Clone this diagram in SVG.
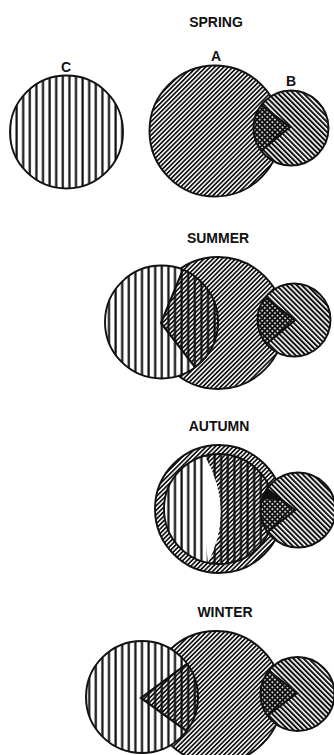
<svg xmlns="http://www.w3.org/2000/svg" width="334" height="755" viewBox="0 0 334 755">
<defs>
<style>
.lbl{font-family:"Liberation Sans",Arial,sans-serif;font-size:14px;font-weight:bold;fill:#111;text-anchor:middle}
.ol{fill:none;stroke:#111;stroke-width:1.9}
.bg{fill:#fff}
.va{fill:url(#vert)}
.da{fill:url(#diagA)}
.db{fill:url(#diagB)}
.dt{fill:url(#dots)}
.edge{stroke:#111;stroke-width:2.2;fill:none}
</style>
<pattern id="vert" patternUnits="userSpaceOnUse" width="6.6" height="10"><rect x="2.3" y="0" width="2.2" height="10" fill="#111"/></pattern>
<pattern id="diagA" patternUnits="userSpaceOnUse" width="3.2" height="10" patternTransform="rotate(45)"><rect width="1.7" height="10" fill="#111"/></pattern>
<pattern id="diagB" patternUnits="userSpaceOnUse" width="3.6" height="10" patternTransform="rotate(-45)"><rect width="2" height="10" fill="#111"/></pattern>
<pattern id="dots" patternUnits="userSpaceOnUse" width="3.6" height="3.6" patternTransform="rotate(45)"><rect width="3.6" height="3.6" fill="#111"/><rect x="1" y="1" width="1.6" height="1.6" fill="#fff"/></pattern>
<clipPath id="cpB1"><circle cx="291" cy="128" r="37.5"/></clipPath>
<clipPath id="cpC2"><circle cx="161.5" cy="322" r="56.5"/></clipPath>
<clipPath id="cpB2"><circle cx="294" cy="320" r="36.5"/></clipPath>
<clipPath id="cpI3"><circle cx="219" cy="509" r="55"/></clipPath>
<clipPath id="cpB3"><circle cx="298" cy="510" r="37.5"/></clipPath>
<clipPath id="cpC4"><circle cx="142" cy="697" r="56"/></clipPath>
<clipPath id="cpB4"><circle cx="297.5" cy="694" r="37"/></clipPath>
</defs>
<rect width="334" height="755" fill="#fff"/>

<g id="spring">
<text class="lbl" x="216" y="27">SPRING</text>
<g id="spring-C">
<circle class="va" cx="66.5" cy="132" r="56.5"/>
<circle class="ol" cx="66.5" cy="132" r="56.5"/>
<text class="lbl" x="66" y="72">C</text>
</g>
<g id="spring-A">
<circle class="da" cx="215" cy="131" r="65.5"/>
<circle class="ol" cx="215" cy="131" r="65.5"/>
<text class="lbl" x="216" y="61">A</text>
</g>
<g id="spring-B">
<circle class="bg" cx="291" cy="128" r="37.5"/>
<circle class="db" cx="291" cy="128" r="37.5"/>
<g clip-path="url(#cpB1)">
<polygon class="dt" points="290,127 240,89 240,168"/>
<polyline class="edge" points="240,89 290,127 240,168"/>
</g>
<circle class="ol" cx="291" cy="128" r="37.5"/>
<text class="lbl" x="291" y="86">B</text>
</g>
</g>

<g id="summer">
<text class="lbl" x="218" y="243">SUMMER</text>
<g id="summer-A">
<circle class="da" cx="218" cy="323" r="66"/>
<circle class="ol" cx="218" cy="323" r="66"/>
</g>
<g id="summer-C">
<circle class="bg" cx="161.5" cy="322" r="56.5"/>
<circle class="va" cx="161.5" cy="322" r="56.5"/>
<g clip-path="url(#cpC2)">
<polygon class="da" points="161,323 196,238 240,238 240,393 215,393"/>
<polyline class="edge" points="196,238 161,323 215,393"/>
</g>
<circle class="ol" cx="161.5" cy="322" r="56.5"/>
</g>
<g id="summer-B">
<circle class="bg" cx="294" cy="320" r="36.5"/>
<circle class="db" cx="294" cy="320" r="36.5"/>
<g clip-path="url(#cpB2)">
<polygon class="dt" points="295,320 245,282 245,362"/>
<polyline class="edge" points="245,282 295,320 245,362"/>
</g>
<circle class="ol" cx="294" cy="320" r="36.5"/>
</g>
</g>

<g id="autumn">
<text class="lbl" x="219" y="431">AUTUMN</text>
<g id="autumn-A">
<circle class="da" cx="219" cy="509" r="64"/>
<circle class="ol" cx="219" cy="509" r="64"/>
</g>
<g id="autumn-C">
<circle class="bg" cx="219" cy="509" r="55"/>
<circle class="va" cx="219" cy="509" r="55"/>
<g clip-path="url(#cpI3)">
<path class="bg" d="M205,456 Q235,510 208,563 Q201,510 205,456 Z"/>
<path class="da" d="M205,456 Q235,510 208,563 L208,600 L300,600 L300,420 L205,420 Z"/>
</g>
<circle class="ol" cx="219" cy="509" r="55"/>
</g>
<g id="autumn-B">
<circle class="bg" cx="298" cy="510" r="37.5"/>
<circle class="db" cx="298" cy="510" r="37.5"/>
<g clip-path="url(#cpB3)">
<polygon class="dt" points="295,510 245,472 245,550"/>
<polygon fill="#111" points="245,472 283,501 266,499 245,499"/>
<polyline class="edge" points="245,472 295,510 245,550"/>
</g>
<circle class="ol" cx="298" cy="510" r="37.5"/>
</g>
</g>

<g id="winter">
<text class="lbl" x="225" y="617">WINTER</text>
<g id="winter-A">
<circle class="da" cx="216" cy="697" r="66"/>
<circle class="ol" cx="216" cy="697" r="66"/>
</g>
<g id="winter-C">
<circle class="bg" cx="142" cy="697" r="56"/>
<circle class="va" cx="142" cy="697" r="56"/>
<g clip-path="url(#cpC4)">
<polygon class="da" points="141,698 199,655 240,640 240,760 199,740"/>
<polyline class="edge" points="199,655 141,698 199,740"/>
</g>
<circle class="ol" cx="142" cy="697" r="56"/>
</g>
<g id="winter-B">
<circle class="bg" cx="297.5" cy="694" r="37"/>
<circle class="db" cx="297.5" cy="694" r="37"/>
<g clip-path="url(#cpB4)">
<polygon class="dt" points="297,693 245,652 245,733"/>
<polyline class="edge" points="245,652 297,693 245,733"/>
</g>
<circle class="ol" cx="297.5" cy="694" r="37"/>
</g>
</g>
</svg>
